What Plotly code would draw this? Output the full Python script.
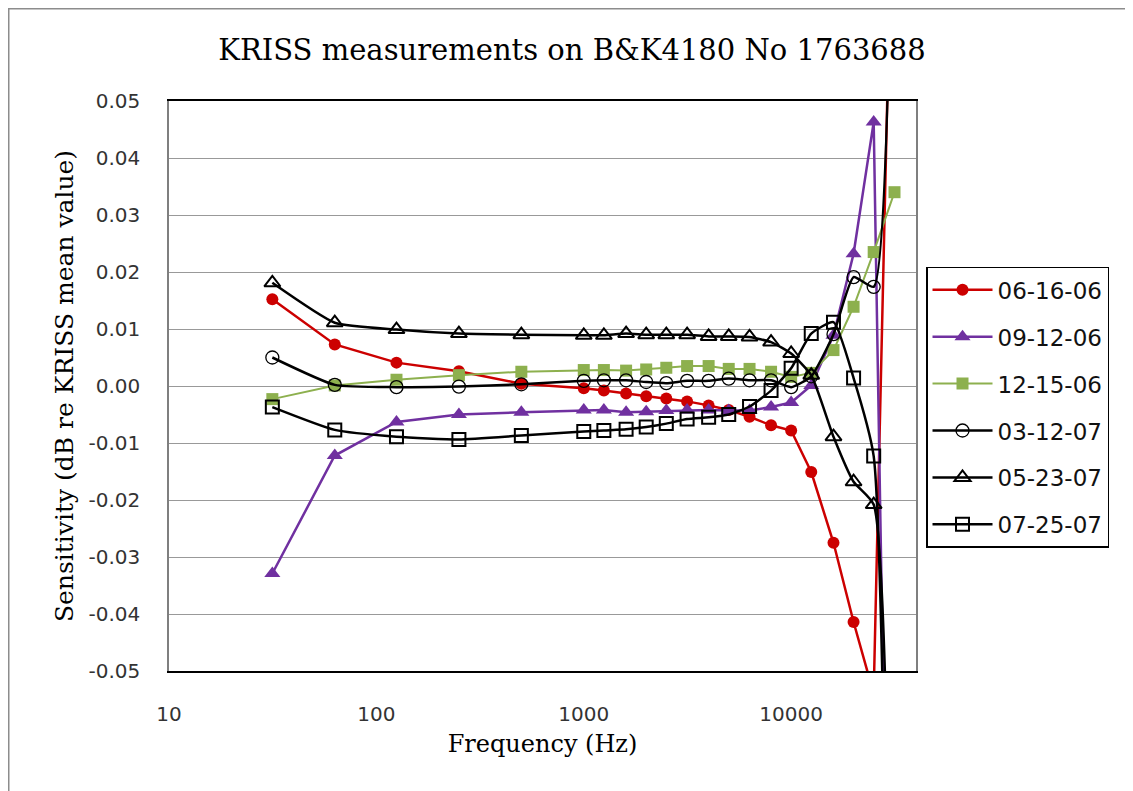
import plotly.graph_objects as go

freq = [31.5, 63, 125, 250, 500, 1000, 1250, 1600, 2000, 2500, 3150, 4000,
        5000, 6300, 8000, 10000, 12500, 16000, 20000, 25000, 31500]

s_061606 = [0.0152, 0.0073, 0.0041, 0.0026, 0.0004, -0.0004, -0.0008, -0.0013, -0.0018, -0.0022, -0.0027,
            -0.0034, -0.0042, -0.0054, -0.0069, -0.0078, -0.0151, -0.0275, -0.0414, -0.054, 0.106]
s_091206 = [-0.0329, -0.0122, -0.0063, -0.0050, -0.0046, -0.0042, -0.0042, -0.0046, -0.0045, -0.0043, -0.0042,
            -0.0042, -0.0043, -0.0043, -0.0037, -0.0029, 0.0001, 0.0089, 0.0232, 0.0463, -0.17]
s_121506 = [-0.0023, 0.0001, 0.0011, 0.0019, 0.0025, 0.0028, 0.0028, 0.0027, 0.0029, 0.0032, 0.0035,
            0.0035, 0.0030, 0.0030, 0.0025, 0.0016, 0.0023, 0.0063, 0.0139, 0.0235, 0.0340]
s_031207 = [0.0050, 0.0002, -0.0002, -0.0001, 0.0003, 0.0009, 0.0010, 0.0010, 0.0007, 0.0005, 0.0009,
            0.0009, 0.0013, 0.0010, 0.0010, -0.0002, 0.0017, 0.0091, 0.0191, 0.0174, 0.124]
s_052307 = [0.0181, 0.0111, 0.0099, 0.0092, 0.0090, 0.0089, 0.0089, 0.0092, 0.0090, 0.0090, 0.0090,
            0.0087, 0.0087, 0.0086, 0.0077, 0.0057, 0.0019, -0.0089, -0.0168, -0.0208, -0.158]
s_072507 = [-0.0037, -0.0077, -0.0089, -0.0094, -0.0087, -0.0080, -0.0078, -0.0076, -0.0072, -0.0066, -0.0058,
            -0.0055, -0.0050, -0.0036, -0.0008, 0.0031, 0.0092, 0.0112, 0.0014, -0.0123, -0.19]

series_names = ["06-16-06", "09-12-06", "12-15-06", "03-12-07", "05-23-07", "07-25-07"]
series_values = [s_061606, s_091206, s_121506, s_031207, s_052307, s_072507]

x_tick_vals = [10, 100, 1000, 10000]
x_tick_text = ["10", "100", "1000", "10000"]
y_tick_vals = [0.05, 0.04, 0.03, 0.02, 0.01, 0.0, -0.01, -0.02, -0.03, -0.04, -0.05]
y_tick_text = ["0.05", "0.04", "0.03", "0.02", "0.01", "0.00",
               "-0.01", "-0.02", "-0.03", "-0.04", "-0.05"]

styles = [
    dict(color="#CC0000", symbol="circle", size=12, lw=2.5, open=False, shape="linear"),
    dict(color="#7030A0", symbol="triangle-up", size=14, lw=2.5, open=False, shape="linear"),
    dict(color="#8DB04E", symbol="square", size=12, lw=2.0, open=False, shape="linear"),
    dict(color="#000000", symbol="circle-open", size=13, lw=2.5, open=True, shape="spline"),
    dict(color="#000000", symbol="triangle-up-open", size=14, lw=2.5, open=True, shape="spline"),
    dict(color="#000000", symbol="square-open", size=13, lw=2.5, open=True, shape="spline"),
]

fig = go.Figure()
for i, (name, vals, st) in enumerate(zip(series_names, series_values, styles)):
    marker = dict(symbol=st["symbol"], size=st["size"], color=st["color"])
    if st["open"]:
        marker["line"] = dict(width=2 if "circle" not in st["symbol"] else 1.3, color=st["color"])
    line = dict(color=st["color"], width=st["lw"], shape=st["shape"])
    if st["shape"] == "spline":
        line["smoothing"] = 0.5
    fig.add_trace(go.Scatter(
        x=freq, y=vals, name=name, mode="lines+markers",
        line=line, marker=marker, legendgroup=f"g{i}", cliponaxis=True,
    ))

# page has an 8px body margin, so the figure is laid out 8px up/left of the target pixels
L, T, PW, PH = 161, 93, 747, 570
FW, FH = 1125, 783
frame_color = "#8c8c8c"
fig.update_layout(
    width=FW, height=FH,
    margin=dict(l=L, r=FW - L - PW, t=T, b=FH - T - PH, autoexpand=False),
    paper_bgcolor="white", plot_bgcolor="white",
    title=dict(text="KRISS measurements on B&K4180 No 1763688",
               font=dict(family="DejaVu Serif", size=29, color="#000"),
               x=(572 - 8) / FW, xanchor="center", y=1 - 42 / FH, yanchor="middle"),
    xaxis=dict(type="log", range=[1, 4.602], tickvals=x_tick_vals, ticktext=x_tick_text,
               showgrid=False, showline=True, linecolor="#000", linewidth=1.5, mirror=True,
               ticks="", ticklabelstandoff=24,
               tickfont=dict(family="DejaVu Sans", size=20, color="#333"),
               title=dict(text="Frequency (Hz)", font=dict(family="DejaVu Serif", size=24, color="#000"),
                          standoff=10),
               zeroline=False),
    yaxis=dict(range=[-0.05, 0.05], tickvals=y_tick_vals, ticktext=y_tick_text,
               showgrid=True, gridcolor="#999999", gridwidth=1.3,
               showline=True, linecolor="#7f7f7f", linewidth=1.5, mirror=True,
               ticks="", ticklabelstandoff=23, zeroline=False,
               tickfont=dict(family="DejaVu Sans", size=20, color="#333"),
               title=dict(text="Sensitivity (dB re KRISS mean value)",
                          font=dict(family="DejaVu Serif", size=25, color="#000"), standoff=8)),
    legend=dict(x=1.0134, xanchor="left", y=0.709, yanchor="top",
                bordercolor="#000", borderwidth=1.5, bgcolor="white",
                font=dict(family="DejaVu Sans", size=23, color="#111"),
                tracegroupgap=14, itemwidth=60, entrywidth=205),
    showlegend=True,
)

# outer chart frame (gray)
fig.add_shape(type="rect", xref="paper", yref="paper",
              x0=(0 - L) / PW, x1=(FW + 20 - L) / PW,
              y0=(T + PH - FH - 20) / PH, y1=(T + PH - 0) / PH,
              line=dict(color=frame_color, width=3), fillcolor="rgba(0,0,0,0)", layer="below")

fig.write_html("out.html")
